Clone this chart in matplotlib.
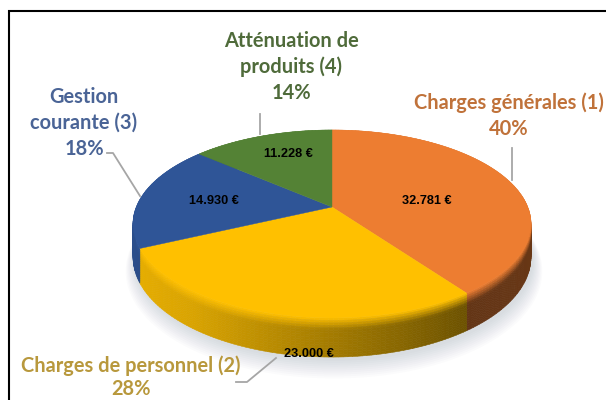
import numpy as np
import matplotlib
matplotlib.use("Agg")
import matplotlib.pyplot as plt
from matplotlib.collections import PolyCollection
from matplotlib.colors import to_rgb

# ---- data ----
categories = ["Charges générales (1)", "Charges de personnel (2)", "Gestion\ncourante (3)", "Atténuation de\nproduits (4)"]
amounts = [32781, 23000, 14930, 11228]
amount_labels = ["32.781 €", "23.000 €", "14.930 €", "11.228 €"]
percent_labels = ["40%", "28%", "18%", "14%"]
face_colors = ["#ED7D31", "#FFC000", "#2F5597", "#548235"]
text_colors = ["#C0723A", "#B8983C", "#4A6496", "#4F6B3A"]

# ---- projection of the unit disc to pixels ----
CX, CY, RX, RY, K, DEPTH = 332.0, 207.0, 195.7, 90.9, -0.181, 32.0

def project(theta, r=1.0, drop=0.0):
    u, v = r * np.sin(theta), r * np.cos(theta)
    den = 1 - K * v
    return CX + RX * u / den, CY + (drop - RY * v) / den

def shade(u):
    return np.interp(u, [-1.0, -0.6, 0.0, 0.6, 1.0], [0.92, 0.85, 0.64, 0.42, 0.44])

fig = plt.figure(figsize=(6.06, 4.0), dpi=100, facecolor="white")
ax = fig.add_axes([0, 0, 1, 1])
ax.set_xlim(0, 606)
ax.set_ylim(400, 0)
ax.axis("off")

# frame
ax.plot([606, 9, 9], [11, 11, 400], color="black", lw=1.5, zorder=1, solid_joinstyle="miter")

fractions = np.array(amounts, dtype=float) / np.sum(amounts)
edges = np.concatenate([[0.0], np.cumsum(fractions)]) * 2 * np.pi

# soft shadow
full = np.linspace(0, 2 * np.pi, 240)
for i in range(10):
    sx, sy = project(full, 1.0 + 0.005 * i, DEPTH + 3 + i * 1.0)
    ax.fill(sx + 2, sy, color="#8090a0", alpha=0.03, lw=0, zorder=2)

# side wall with gradient and bevel
LAYERS = 16
for a0, a1, col in zip(edges[:-1], edges[1:], face_colors):
    base = np.array(to_rgb(col))
    n = max(4, int((a1 - a0) / 0.02))
    th = np.linspace(a0, a1, n + 1)
    ts = np.linspace(0, 1, LAYERS + 1)
    polys, cols = [], []
    for j in range(n):
        tm = 0.5 * (th[j] + th[j + 1])
        s = shade(np.sin(tm))
        for l in range(LAYERS):
            t0, t1 = ts[l], ts[l + 1]
            x00, y00 = project(th[j], 1.0, DEPTH * t0)
            x10, y10 = project(th[j + 1], 1.0, DEPTH * t0)
            x11, y11 = project(th[j + 1], 1.0, DEPTH * t1)
            x01, y01 = project(th[j], 1.0, DEPTH * t1)
            polys.append([(x00, y00), (x10, y10), (x11, y11), (x01, y01)])
            tc = 0.5 * (t0 + t1)
            w = np.clip(tc / 0.3, 0, 1)
            c = base * (1 - w) + base * s * w
            cols.append(np.clip(c, 0, 1))
    ax.add_collection(PolyCollection(polys, facecolors=cols, edgecolors=cols, linewidths=0.4, zorder=3))

# top faces
for a0, a1, col in zip(edges[:-1], edges[1:], face_colors):
    th = np.linspace(a0, a1, 120)
    x, y = project(th)
    ax.fill(np.r_[CX, x], np.r_[CY, y], color=col, lw=0.3, zorder=4)

# leader lines
leaders = [
    ([512, 512], [148, 180]),
    ([236, 247, 276], [382, 382, 358]),
    ([107, 113, 140], [153, 153, 196]),
    ([260, 260], [114, 134]),
]
for lx, ly in leaders:
    ax.plot(lx, ly, color="#A6A6A6", lw=1.3, zorder=5)

# category and percent labels
label_pos = [(509, 103), (131, 366), (84, 110), (291, 54)]
pct_pos = [(509, 129), (131, 389), (84, 149), (291, 93)]
for name, pct, tc, lp, pp in zip(categories, percent_labels, text_colors, label_pos, pct_pos):
    ax.text(lp[0], lp[1], name, color=tc, family="Lato", weight="bold", fontsize=14.4,
            ha="center", va="center", linespacing=1.37, zorder=6)
    ax.text(pp[0], pp[1], pct, color=tc, family="Lato", weight="bold", fontsize=14.4,
            ha="center", va="center", zorder=6)

# amounts
amount_pos = [(427, 201), (309, 354), (214, 201), (288, 154)]
for txt, p in zip(amount_labels, amount_pos):
    ax.text(p[0], p[1], txt, color="black", family="Liberation Sans", weight="bold",
            fontsize=9.2, ha="center", va="center", zorder=7)

fig.savefig("out.png", dpi=100)
